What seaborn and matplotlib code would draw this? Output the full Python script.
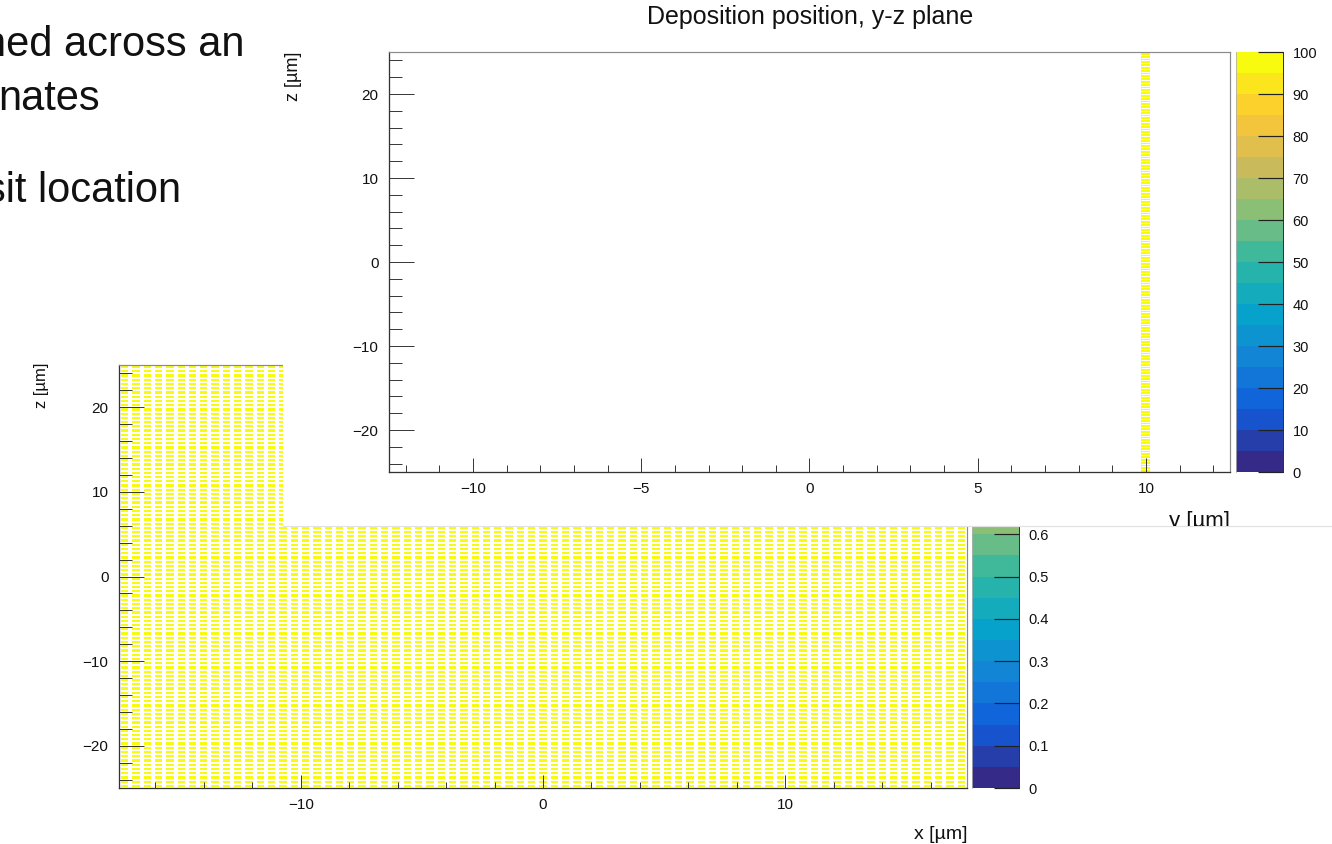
import numpy as np
import matplotlib
matplotlib.use("Agg")
import matplotlib.pyplot as plt
from matplotlib.patches import Rectangle
from matplotlib.lines import Line2D
from matplotlib.transforms import Bbox, TransformedBbox
import seaborn as sns

# ---------------- data ----------------
slide_lines = ["ned across an", "nates", "sit location"]

top_title = "Deposition position, y-z plane"
top_xlabel = "y [µm]"
top_ylabel = "z [µm]"
bot_xlabel = "x [µm]"
bot_ylabel = "z [µm]"

# ROOT kBird palette stops (evenly spaced)
bird_colors = ["#352a87", "#0f5cdd", "#1481d6", "#06a4ca", "#2eb7a4",
               "#87bf77", "#d1bb59", "#fec832", "#f9fb0e"]

# top histogram (y-z plane): a single filled column near y = 10 um
yz_y_edges = [9.85, 10.12]
yz_z_edges = np.linspace(-25, 25, 151)
yz_counts = np.full(150, 100.0)
top_levels = np.linspace(0, 100, 21)
top_cbar_ticks = [0, 10, 20, 30, 40, 50, 60, 70, 80, 90, 100]
top_cbar_labels = ["0", "10", "20", "30", "40", "50", "60", "70", "80", "90", "100"]

# bottom histogram (x-z plane): uniformly filled
xz_x_edges = np.linspace(-17.5, 17.5, 76)
xz_z_edges = np.linspace(-25, 25, 101)
xz_counts = np.full((100, 75), 1.0)
bot_levels = np.linspace(0, 1, 21)
bot_cbar_ticks = [0, 0.1, 0.2, 0.3, 0.4, 0.5, 0.6, 0.7, 0.8, 0.9, 1.0]
bot_cbar_labels = ["0", "0.1", "0.2", "0.3", "0.4", "0.5", "0.6", "0.7", "0.8", "0.9", "1"]

# ---------------- style ----------------
sns.set_theme(style="white")
plt.rcParams["font.family"] = ["Liberation Sans", "DejaVu Sans"]
plt.rcParams["axes.axisbelow"] = False

W, H = 1332, 844
PT = 0.72  # points per pixel at dpi 100
fig = plt.figure(figsize=(W / 100, H / 100), dpi=100)
fig.patch.set_facecolor("white")

cmap = sns.blend_palette(bird_colors, n_colors=256, as_cmap=True)
TXT = "#111111"
TICK = "#3a3a3a"


def rect(l, t, r, b):
    return [l / W, 1 - b / H, (r - l) / W, (b - t) / H]


def style_axes(ax, xmaj, xmin, ymaj, ymin, xlen, ylen):
    ax.set_facecolor("white")
    ax.set_xticks(xmaj)
    ax.set_xticks(xmin, minor=True)
    ax.set_yticks(ymaj)
    ax.set_yticks(ymin, minor=True)
    ax.tick_params(axis="x", which="major", direction="in", length=xlen * PT,
                   width=1.0 * PT, color=TICK, pad=7, labelsize=11, labelcolor=TXT)
    ax.tick_params(axis="x", which="minor", direction="in", length=xlen * 0.5 * PT,
                   width=1.0 * PT, color=TICK)
    ax.tick_params(axis="y", which="major", direction="in", length=ylen * PT,
                   width=1.0 * PT, color=TICK, pad=7.5, labelsize=11, labelcolor=TXT)
    ax.tick_params(axis="y", which="minor", direction="in", length=ylen * 0.5 * PT,
                   width=1.0 * PT, color=TICK)
    ax.tick_params(which="both", top=False, right=False, bottom=True, left=True)
    for s in ["left", "bottom"]:
        ax.spines[s].set_color("#333333")
        ax.spines[s].set_linewidth(1.3 * PT)
    for s in ["top", "right"]:
        ax.spines[s].set_color("#8a8a8a")
        ax.spines[s].set_linewidth(1.2 * PT)


def colorbar(cax, levels, ticks, labels):
    n = len(levels) - 1
    band = (np.arange(n) / (n - 1))[:, None]
    cax.pcolormesh([0, 1], levels, band, cmap=cmap, vmin=0, vmax=1)
    cax.set_xlim(0, 1)
    cax.set_ylim(levels[0], levels[-1])
    cax.set_xticks([])
    cax.yaxis.tick_right()
    cax.set_yticks(ticks)
    cax.set_yticklabels(labels)
    cax.tick_params(axis="y", direction="in", length=25 * PT, width=1.2 * PT,
                    color="#222222", pad=7, labelsize=10.5, labelcolor=TXT,
                    right=True, left=False)
    for s in ["top", "bottom"]:
        cax.spines[s].set_visible(False)
    cax.spines["left"].set_color("#b0b0b0")
    cax.spines["left"].set_linewidth(0.8 * PT)
    cax.spines["right"].set_color("#333333")
    cax.spines["right"].set_linewidth(1.0 * PT)


# ---------------- bottom plot (x-z plane, partly hidden) ----------------
ax_b = fig.add_axes(rect(119, 365, 967, 788), zorder=0)
ax_b.pcolormesh(xz_x_edges, xz_z_edges, xz_counts, cmap=cmap, vmin=0, vmax=1)
ax_b.vlines(xz_x_edges, -25, 25, colors="white", lw=4 * PT)
ax_b.hlines(xz_z_edges, -17.5, 17.5, colors="white", lw=2 * PT)
ax_b.set_xlim(-17.5, 17.5)
ax_b.set_ylim(-25, 25)
style_axes(ax_b, [-10, 0, 10], np.arange(-16, 17, 2),
           [-20, -10, 0, 10, 20], np.arange(-24, 25, 2), 13, 25)

cax_b = fig.add_axes(rect(972, 365, 1019, 788), zorder=0)
colorbar(cax_b, bot_levels, bot_cbar_ticks, bot_cbar_labels)

fig.text(42 / W, 1 - 363 / H, bot_ylabel, rotation=90, ha="center", va="top",
         fontsize=12, color=TXT)
fig.text(967 / W, 1 - 839 / H, bot_xlabel, ha="right", va="baseline",
         fontsize=14, color=TXT)

# ---------------- overlay: the top plot's white picture ----------------
over = Rectangle((283 / W, 1 - 526 / H), 1 - 283 / W, 526 / H, transform=fig.transFigure,
                 facecolor="white", edgecolor="none", zorder=5)
fig.add_artist(over)
fig.add_artist(Line2D([283 / W, 1], [1 - 526 / H, 1 - 526 / H], transform=fig.transFigure,
                      color="#e2e2e2", lw=1.2 * PT, zorder=6))

# ---------------- top plot (y-z plane) ----------------
ax_t = fig.add_axes(rect(389, 52, 1230, 472), zorder=10)
ax_t.pcolormesh(yz_y_edges, yz_z_edges, yz_counts[:, None], cmap=cmap, vmin=0, vmax=100)
ax_t.hlines(yz_z_edges, yz_y_edges[0], yz_y_edges[1], colors="white", lw=1.0 * PT)
ax_t.set_xlim(-12.5, 12.5)
ax_t.set_ylim(-25, 25)
style_axes(ax_t, [-10, -5, 0, 5, 10], np.arange(-12, 13, 1),
           [-20, -10, 0, 10, 20], np.arange(-24, 25, 2), 14, 25)

cax_t = fig.add_axes(rect(1236, 52, 1283, 472), zorder=10)
colorbar(cax_t, top_levels, top_cbar_ticks, top_cbar_labels)

fig.text(810 / W, 1 - 17 / H, top_title, ha="center", va="center",
         fontsize=18, color=TXT, zorder=11)
fig.text(294 / W, 1 - 52 / H, top_ylabel, rotation=90, ha="center", va="top",
         fontsize=13, color=TXT, zorder=11)
xl = fig.text(1230 / W, 1 - 527 / H, top_xlabel, ha="right", va="baseline",
              fontsize=16, color=TXT, zorder=11)
xl.set_clip_box(TransformedBbox(Bbox([[283 / W, 1 - 526 / H], [1, 1]]), fig.transFigure))
xl.set_clip_on(True)

# ---------------- slide text ----------------
slide_pos = [(-17, 56), (-2, 110), (-15, 202)]
for s, (x, y) in zip(slide_lines, slide_pos):
    fig.text(x / W, 1 - y / H, s, ha="left", va="baseline", fontsize=30,
             color=TXT, zorder=11)

fig.savefig("out.png", dpi=100, facecolor="white")
